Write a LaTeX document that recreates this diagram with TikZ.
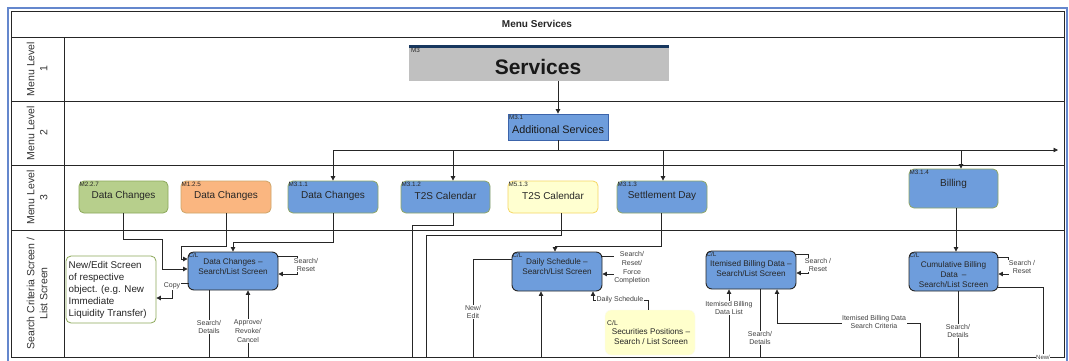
\documentclass[tikz,border=0pt]{standalone}
\usepackage{fontspec}
\setmainfont{Liberation Sans}
\usetikzlibrary{arrows.meta}
\definecolor{boxblue}{RGB}{110,157,220}
\definecolor{olivebd}{RGB}{143,166,101}
\definecolor{greenfill}{RGB}{183,207,140}
\definecolor{greenbd}{RGB}{140,168,90}
\definecolor{orangefill}{RGB}{250,182,128}
\definecolor{orangebd}{RGB}{205,165,105}
\definecolor{yelfill}{RGB}{255,255,208}
\definecolor{yelbd}{RGB}{245,215,100}
\definecolor{secfill}{RGB}{255,255,204}
\definecolor{servgray}{RGB}{192,192,192}
\definecolor{navybar}{RGB}{23,55,94}
\definecolor{frameblue}{RGB}{100,135,205}
\definecolor{addbd}{RGB}{60,100,170}
\newcommand{\myfs}[2]{\fontsize{#1}{#2}\selectfont}
\begin{document}
\begin{tikzpicture}[x=1pt,y=-1pt,
  frameline/.style={draw=black!85, line width=1pt},
  conn/.style={draw=black!85, line width=0.8pt},
  arr/.style={conn, -{Triangle[length=4.5pt,width=4.5pt]}},
  lvbox/.style={rounded corners=5pt, line width=0.8pt, minimum height=32pt, inner sep=0pt},
  bluelv/.style={lvbox, draw=olivebd, fill=boxblue},
  slbox/.style={rounded corners=6pt, draw=black!85, line width=0.9pt, fill=boxblue, inner sep=0pt},
  idlab/.style={font=\myfs{6.3}{7}, inner sep=0.8pt, anchor=north west, text=black!85},
  lvtext/.style={font=\myfs{10}{12}, text=black!85},
  sltext/.style={font=\myfs{8.2}{10}, align=center, text=black!85},
  lab/.style={font=\myfs{7}{8.6}, align=center, fill=white, inner sep=0.6pt, text=black!75},
  hdr/.style={rotate=90, align=center, font=\myfs{10.5}{13}, text=black!80}]
\useasboundingbox (0,0) rectangle (1069,360);
\fill[white] (0,0) rectangle (1069,360);

% frames and lanes
\draw[frameblue, line width=2pt] (7.5,7.5) rectangle (1066.5,380);
\draw[frameline] (11,11) rectangle (1064,357);
\draw[frameline] (11,37) -- (1064,37);
\draw[frameline] (11,101) -- (1064,101);
\draw[frameline] (11,165) -- (1064,165);
\draw[frameline] (11,230) -- (1064,230);
\draw[frameline] (64,37) -- (64,357);

\node[font=\bfseries\myfs{10}{12}, text=black!85] (title) at (537,24) {Menu Services};
\node[hdr] (h1) at (37,69) {Menu Level\\1};
\node[hdr] (h2) at (37,133) {Menu Level\\2};
\node[hdr] (h3) at (37,197.5) {Menu Level\\3};
\node[hdr] (h4) at (37,293.5) {Search Criteria Screen /\\List Screen};

% level 1
\node[fill=servgray, minimum width=260pt, minimum height=36pt, inner sep=0pt] (serv) at (539,63) {};
\fill[navybar] (409,45) rectangle (669,47.5);
\node[idlab] (servid) at (410,47.5) {M3};
\node[font=\bfseries\myfs{21}{24}, text=black!90] (servt) at (538,67) {Services};

% level 2
\node[draw=addbd, fill=boxblue, line width=0.8pt, minimum width=100pt, minimum height=26pt, inner sep=0pt] (addl) at (558,127) {};
\node[idlab] (addlid) at (508,114) {M3.1};
\node[font=\myfs{10.8}{12}, text=black!90] (addlt) at (558,130) {Additional Services};

% level 3
\node[lvbox, draw=greenbd, fill=greenfill, minimum width=89pt] (m227) at (123.5,197) {};
\node[idlab] (m227id) at (m227.north west) {M2.2.7};
\node[lvtext] (m227t) at (123.5,196) {Data Changes};

\node[lvbox, draw=orangebd, fill=orangefill, minimum width=90pt] (m125) at (226,197) {};
\node[idlab] (m125id) at (m125.north west) {M1.2.5};
\node[lvtext] (m125t) at (226,196) {Data Changes};

\node[bluelv, minimum width=90pt] (m311) at (333,197) {};
\node[idlab] (m311id) at (m311.north west) {M3.1.1};
\node[lvtext] (m311t) at (333,196) {Data Changes};

\node[bluelv, minimum width=89pt] (m312) at (445.5,197) {};
\node[idlab] (m312id) at (m312.north west) {M3.1.2};
\node[lvtext] (m312t) at (445.5,196) {T2S Calendar};

\node[lvbox, draw=yelbd, fill=yelfill, minimum width=90pt] (m513) at (553,197) {};
\node[idlab] (m513id) at (m513.north west) {M5.1.3};
\node[lvtext] (m513t) at (553,196) {T2S Calendar};

\node[bluelv, minimum width=90pt] (m313) at (662,197) {};
\node[idlab] (m313id) at (m313.north west) {M3.1.3};
\node[lvtext] (m313t) at (662,196) {Settlement Day};

\node[bluelv, minimum width=89pt, minimum height=39pt] (bill) at (953.5,188.5) {};
\node[idlab] (billid) at (bill.north west) {M3.1.4};
\node[lvtext] (billt) at (953.5,184) {Billing};

% search / list screens
\node[draw=greenbd, fill=white, rounded corners=5pt, line width=0.8pt, minimum width=90pt, minimum height=67pt, inner sep=0pt] (newed) at (111,289.5) {};
\node[font=\myfs{9.8}{12}, align=left, anchor=west, text=black!85, inner sep=0pt] (newedt) at (68.5,289.5) {New/Edit Screen\\of respective\\object. (e.g. New\\Immediate\\Liquidity Transfer)};

\node[slbox, minimum width=90pt, minimum height=38pt] (dcs) at (233,271) {};
\node[idlab] (dcsid) at (dcs.north west) {C/L};
\node[sltext] (dcst) at (233,267) {Data Changes --\\Search/List Screen};

\node[slbox, minimum width=90pt, minimum height=39pt] (dss) at (557,271.5) {};
\node[idlab] (dssid) at (dss.north west) {C/L};
\node[sltext] (dsst) at (557,267) {Daily Schedule --\\Search/List Screen};

\node[fill=secfill, draw=secfill!80!black!10, rounded corners=6pt, minimum width=90pt, minimum height=45pt, inner sep=0pt] (sec) at (650,332.5) {};
\node[font=\myfs{6.8}{7}, anchor=west, inner sep=0pt, text=black!85] (secid) at (607,323) {C/L};
\node[sltext] (sect) at (651,337) {Securities Positions --\\Search / List Screen};

\node[slbox, minimum width=90pt, minimum height=38pt] (ibs) at (751,270) {};
\node[idlab] (ibsid) at (ibs.north west) {C/L};
\node[sltext] (ibst) at (751,269) {Itemised Billing Data --\\Search/List Screen};

\node[slbox, minimum width=89pt, minimum height=39pt] (cbs) at (953.5,271.5) {};
\node[idlab] (cbsid) at (cbs.north west) {C/L};
\node[sltext] (cbst) at (953.5,275) {Cumulative Billing\\Data\enspace --\\Search/List Screen};

% connectors: top levels
\coordinate (busL) at (333,150);
\coordinate (busR) at (1058,150);
\draw[arr] (558,0 |- serv.south) -- (addl.north);
\draw[conn] (addl.south) -- (558,150);
\draw[arr] (busL) -- (busR);
\draw[arr] (busL) -- (m311.north);
\draw[arr] (453,150) -- (453,0 |- m312.north);
\draw[arr] (663,150) -- (663,0 |- m313.north);
\draw[arr] (961,150) -- (961,0 |- bill.north);

% data changes
\draw[arr] (123,0 |- m227.south) |- (162,239) |- (dcs.west |- 0,269);
\draw[arr] (m125.south) |- (181,246) |- (dcs.west |- 0,259);
\draw[arr] (m311.south) |- (233,242) -- (dcs.north);
\draw[arr] (189,283) -- (172,283) |- (newed.east |- 0,298);
\node[lab] (copyl) at (172,286) {Copy};
\draw[arr] (277,256) -- (297,256) -- (297,274) -- (dcs.east |- 0,274);
\node[lab] (dcsr) at (306,265) {Search/\\Reset};
\draw[conn] (209,0 |- dcs.south) -- (209,357);
\node[lab] (dcsd) at (209,327) {Search/\\Details};
\draw[arr] (248,357) -- (248,0 |- dcs.south);
\node[lab] (dcsa) at (248,331) {Approve/\\Revoke/\\Cancel};

% calendar & schedule
\draw[conn] (453,0 |- m312.south) |- (412,225) -- (412,357);
\draw[conn] (561,0 |- m513.south) |- (426,235) -- (426,357);
\draw[arr] (661,0 |- m313.south) |- (555,246) -- (555,0 |- dss.north);
\draw[arr] (601,256) -- (615,256) -- (615,274) -- (dss.east |- 0,274);
\node[lab] (dssr) at (632,268) {Search/\\Reset/\\Force\\Completion};
\draw[conn] (dss.west |- 0,259) -| (473,357);
\node[lab] (dssn) at (473,312) {New/\\Edit};
\draw[arr] (541,357) -- (541,0 |- dss.south);
\draw[arr] (648,0 |- sec.north) |- (593,300) -- (593,0 |- dss.south);
\node[lab] (dssl) at (620,299.5) {Daily Schedule};

% billing
\draw[arr] (795,254) -- (808,254) -- (808,273) -- (ibs.east |- 0,273);
\node[lab] (ibsr) at (818,265) {Search /\\Reset};
\draw[arr] (729,357) -- (729,0 |- ibs.south);
\node[lab] (ibsl) at (729,308) {Itemised Billing\\Data List};
\draw[conn] (760,0 |- ibs.south) -- (760,357);
\node[lab] (ibsd) at (760,338) {Search/\\Details};
\draw[arr] (920,357) |- (777,323) -- (777,0 |- ibs.south);
\node[lab] (ibsc) at (874,322) {Itemised Billing Data\\Search Criteria};

\draw[arr] (956,0 |- bill.south) -- (956,0 |- cbs.north);
\draw[arr] (997,257) -- (1008,257) -- (1008,274) -- (cbs.east |- 0,274);
\node[lab] (cbsr) at (1022,267) {Search /\\Reset};
\draw[conn] (958,0 |- cbs.south) -- (958,357);
\node[lab] (cbsd) at (958,331) {Search/\\Details};
\draw[conn] (cbs.east |- 0,287) -| (1043,357);
\node[lab, font=\myfs{6}{7}] (cbsn) at (1043,357) {New/};
\end{tikzpicture}
\end{document}
